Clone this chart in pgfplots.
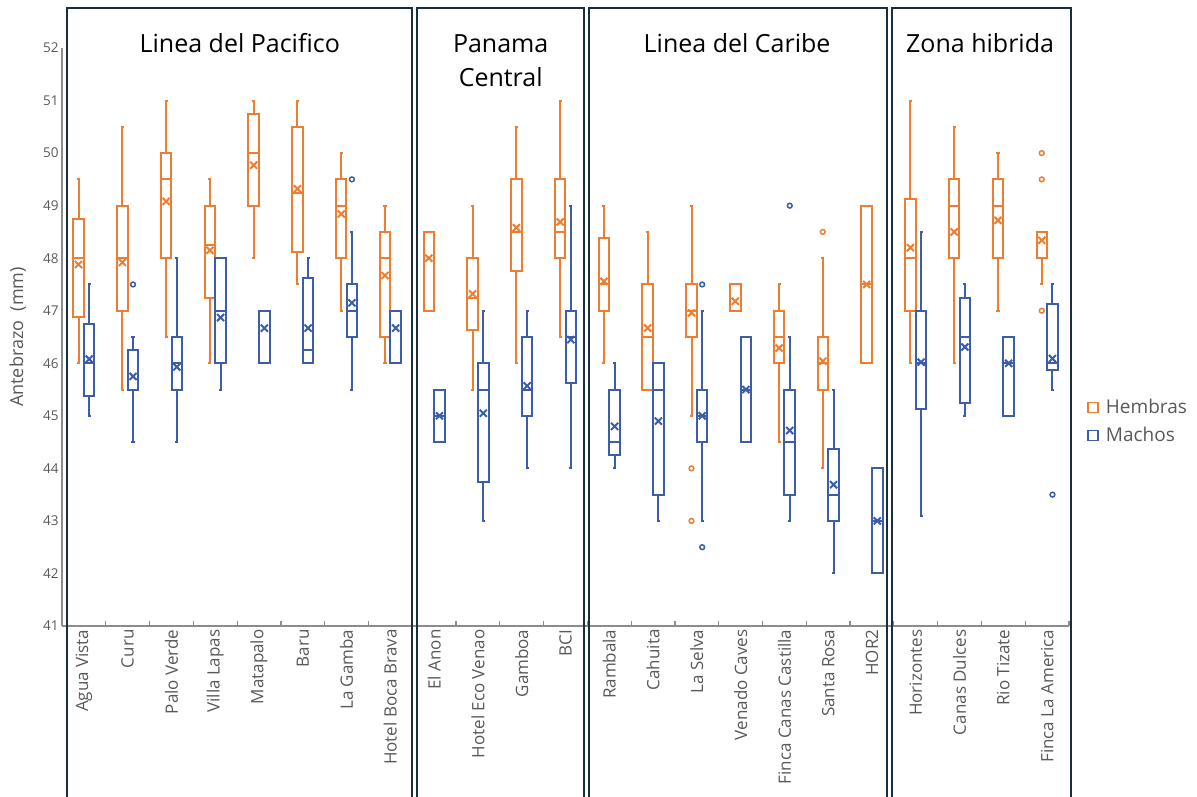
\documentclass[border=0pt]{standalone}
\usepackage{pgfplots}
\pgfplotsset{compat=1.18}
\usepgfplotslibrary{statistics}
\usepackage{fontspec}
\setmainfont{Open Sans}
\definecolor{hem}{HTML}{ED7D31}
\definecolor{mac}{HTML}{3C5DAA}
\definecolor{frm}{HTML}{1A2F3C}
\definecolor{txtgray}{HTML}{595959}
\definecolor{axgray}{HTML}{8C8C8C}
% position, lower whisker, lower quartile, median, upper quartile, upper whisker, average, colour
\newcommand{\bx}[8]{\addplot[color=#8, line width=2pt,
  boxplot prepared={draw position=#1, lower whisker=#2, lower quartile=#3, median=#4,
  upper quartile=#5, upper whisker=#6, average=#7}] coordinates {};}
\begin{document}
\begin{tikzpicture}
\begin{axis}[
  at={(62pt,-626pt)}, anchor=south west,
  scale only axis, width=1007pt, height=578pt,
  xmin=-0.5, xmax=22.5, ymin=41, ymax=52,
  clip=false,
  axis lines*=left,
  axis line style={axgray, line width=1.2pt},
  tick style={axgray, line width=1.2pt},
  major tick length=0pt, minor tick length=5pt, tick align=inside,
  ytick={41,...,52},
  xtick={0,...,22},
  minor xtick={-0.5,0.5,...,22.5},
  xticklabels={Agua Vista,Curu,Palo Verde,Villa Lapas,Matapalo,Baru,La Gamba,Hotel Boca Brava,El Anon,Hotel Eco Venao,Gamboa,BCI,Rambala,Cahuita,La Selva,Venado Caves,Finca Canas Castilla,Santa Rosa,HOR2,Horizontes,Canas Dulces,Rio Tizate,Finca La America},
  xticklabel style={font=\fontsize{17}{20}\selectfont, text=txtgray, rotate=90, anchor=east},
  yticklabel style={font=\fontsize{13.5}{15}\selectfont, text=txtgray},
  /pgf/number format/assume math mode=true,
  ylabel={Antebrazo\ \ (mm)},
  every axis y label/.style={at={(axis description cs:-0.044,0.5)}, rotate=90, anchor=center, font=\fontsize{18}{20}\selectfont, text=txtgray},
  boxplot/draw direction=y,
  boxplot/box extend=0.24,
  boxplot/whisker extend=0.07,
  boxplot/every box/.style={line width=2pt},
  boxplot/every whisker/.style={line width=2pt},
  boxplot/every median/.style={line width=2pt},
  boxplot/every average/.style={/tikz/mark=x, /tikz/mark size=5pt, /tikz/line width=2pt},
  legend style={at={(axis description cs:1.018,0.354)}, anchor=west, draw=none, fill=none,
    font=\fontsize{19}{22}\selectfont, text=txtgray, row sep=8pt, inner sep=0pt,
    /tikz/every odd column/.append style={column sep=5pt}},
  legend cell align=left,
  legend image code/.code={\draw[#1, line width=1.6pt, fill=none] (0pt,-5pt) rectangle (10pt,5pt);},
]
\addlegendimage{hem}
\addlegendentry{Hembras}
\addlegendimage{mac}
\addlegendentry{Machos}
% Linea del Pacifico
\bx{-0.122}{46.0}{46.875}{48.0}{48.75}{49.5}{47.88}{hem}
\bx{0.122}{45.0}{45.375}{46.0}{46.75}{47.5}{46.08}{mac}
\bx{0.878}{45.5}{47.0}{48.0}{49.0}{50.5}{47.92}{hem}
\bx{1.122}{44.5}{45.5}{45.5}{46.25}{46.5}{45.75}{mac}
\bx{1.878}{46.5}{48.0}{49.5}{50.0}{51.0}{49.08}{hem}
\bx{2.122}{44.5}{45.5}{46.0}{46.5}{48.0}{45.93}{mac}
\bx{2.878}{46.0}{47.25}{48.25}{49.0}{49.5}{48.15}{hem}
\bx{3.122}{45.5}{46.0}{47.0}{48.0}{48.0}{46.87}{mac}
\bx{3.878}{48.0}{49.0}{50.0}{50.75}{51.0}{49.77}{hem}
\bx{4.122}{46.0}{46.0}{47.0}{47.0}{47.0}{46.67}{mac}
\bx{4.878}{47.5}{48.125}{49.25}{50.5}{51.0}{49.32}{hem}
\bx{5.122}{46.0}{46.0}{46.25}{47.625}{48.0}{46.67}{mac}
\bx{5.878}{47.0}{48.0}{49.0}{49.5}{50.0}{48.84}{hem}
\bx{6.122}{45.5}{46.5}{47.0}{47.5}{48.5}{47.15}{mac}
\bx{6.878}{46.0}{46.5}{48.0}{48.5}{49.0}{47.67}{hem}
\bx{7.122}{46.0}{46.0}{47.0}{47.0}{47.0}{46.67}{mac}
% Panama Central
\bx{7.878}{47.0}{47.0}{48.5}{48.5}{48.5}{48.0}{hem}
\bx{8.122}{44.5}{44.5}{45.0}{45.5}{45.5}{45.0}{mac}
\bx{8.878}{45.5}{46.625}{47.25}{48.0}{49.0}{47.32}{hem}
\bx{9.122}{43.0}{43.75}{45.5}{46.0}{47.0}{45.05}{mac}
\bx{9.878}{46.0}{47.75}{48.5}{49.5}{50.5}{48.58}{hem}
\bx{10.122}{44.0}{45.0}{45.5}{46.5}{47.0}{45.57}{mac}
\bx{10.878}{46.5}{48.0}{48.5}{49.5}{51.0}{48.69}{hem}
\bx{11.122}{44.0}{45.625}{46.5}{47.0}{49.0}{46.45}{mac}
% Linea del Caribe
\bx{11.878}{46.0}{47.0}{47.5}{48.375}{49.0}{47.56}{hem}
\bx{12.122}{44.0}{44.25}{44.5}{45.5}{46.0}{44.8}{mac}
\bx{12.878}{45.5}{45.5}{46.5}{47.5}{48.5}{46.67}{hem}
\bx{13.122}{43.0}{43.5}{45.5}{46.0}{46.0}{44.9}{mac}
\bx{13.878}{45.0}{46.5}{47.0}{47.5}{49.0}{46.96}{hem}
\bx{14.122}{43.0}{44.5}{45.0}{45.5}{47.0}{45.0}{mac}
\bx{14.878}{47.0}{47.0}{47.5}{47.5}{47.5}{47.18}{hem}
\bx{15.122}{44.5}{44.5}{45.5}{46.5}{46.5}{45.5}{mac}
\bx{15.878}{44.5}{46.0}{46.5}{47.0}{47.5}{46.29}{hem}
\bx{16.122}{43.0}{43.5}{44.5}{45.5}{46.5}{44.72}{mac}
\bx{16.878}{44.0}{45.5}{46.0}{46.5}{48.0}{46.04}{hem}
\bx{17.122}{42.0}{43.0}{43.5}{44.375}{45.5}{43.69}{mac}
\bx{17.878}{46.0}{46.0}{47.5}{49.0}{49.0}{47.5}{hem}
\bx{18.122}{42.0}{42.0}{43.0}{44.0}{44.0}{43.0}{mac}
% Zona hibrida
\bx{18.878}{46.0}{47.0}{48.0}{49.125}{51.0}{48.2}{hem}
\bx{19.122}{43.1}{45.125}{46.0}{47.0}{48.5}{46.02}{mac}
\bx{19.878}{46.0}{48.0}{49.0}{49.5}{50.5}{48.5}{hem}
\bx{20.122}{45.0}{45.25}{46.5}{47.25}{47.5}{46.31}{mac}
\bx{20.878}{47.0}{48.0}{49.0}{49.5}{50.0}{48.72}{hem}
\bx{21.122}{45.0}{45.0}{46.0}{46.5}{46.5}{46.0}{mac}
\bx{21.878}{47.5}{48.0}{48.5}{48.5}{48.5}{48.34}{hem}
\bx{22.122}{45.5}{45.875}{46.0}{47.125}{47.5}{46.09}{mac}
% outliers
\addplot[only marks, mark=o, mark size=2.4pt, color=hem, line width=1.5pt]
  coordinates {(13.878,44.0) (13.878,43.0) (16.878,48.5) (21.878,50.0) (21.878,49.5) (21.878,47.0)};
\addplot[only marks, mark=o, mark size=2.4pt, color=mac, line width=1.5pt]
  coordinates {(1.122,47.5) (6.122,49.5) (14.122,47.5) (14.122,42.5) (16.122,49.0) (22.122,43.5)};
% group frames
\draw[frm, line width=2.3pt] (axis cs:-0.386,52.76) rectangle (axis cs:7.49,37);
\draw[frm, line width=2.3pt] (axis cs:7.605,52.76) rectangle (axis cs:11.418,37);
\draw[frm, line width=2.3pt] (axis cs:11.53,52.76) rectangle (axis cs:18.336,37);
\draw[frm, line width=2.3pt] (axis cs:18.45,52.76) rectangle (axis cs:22.54,37);
% group titles
\node[font=\fontsize{25}{30}\selectfont, anchor=base] at (axis cs:3.56,51.92) {Linea del Pacifico};
\node[font=\fontsize{25}{30}\selectfont, anchor=base] at (axis cs:9.52,51.92) {Panama};
\node[font=\fontsize{25}{30}\selectfont, anchor=base] at (axis cs:9.52,51.276) {Central};
\node[font=\fontsize{25}{30}\selectfont, anchor=base] at (axis cs:14.92,51.92) {Linea del Caribe};
\node[font=\fontsize{25}{30}\selectfont, anchor=base] at (axis cs:20.47,51.92) {Zona hibrida};
\end{axis}
\pgfresetboundingbox
\useasboundingbox (0pt,0pt) rectangle (1197pt,-796pt);
\end{tikzpicture}
\end{document}
